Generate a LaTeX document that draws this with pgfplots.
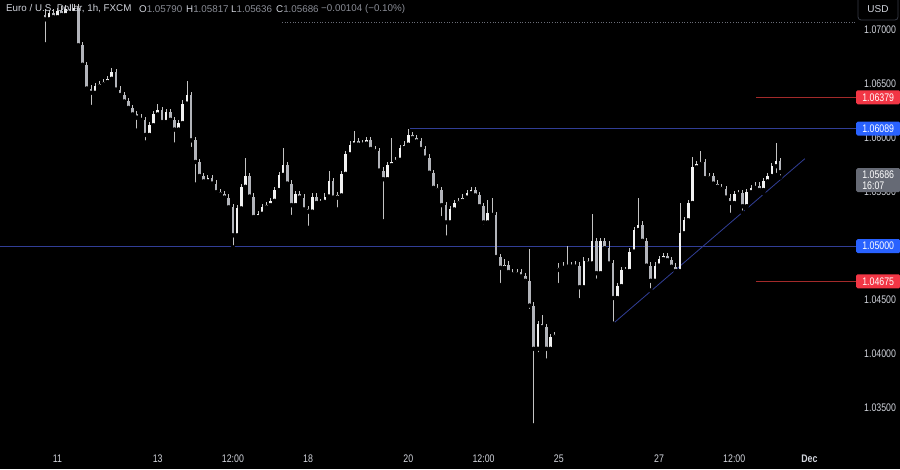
\documentclass[border=0pt]{standalone}
\usepackage{fontspec}
\setmainfont{Liberation Sans}
\newfontfamily\axfont{Liberation Sans}[FakeStretch=0.8]
\usepackage{pgfplots}
\usepackage{pgfplotstable}
\pgfplotsset{compat=1.18}

\definecolor{txt}{HTML}{D1D4DC}
\definecolor{dim}{HTML}{8A8D96}
\definecolor{upc}{HTML}{F2F2F2}
\definecolor{dnc}{HTML}{B2B4BA}
\definecolor{wick}{HTML}{C4C4C4}
\definecolor{lvlblue}{HTML}{313E96}
\definecolor{lvlred}{HTML}{A32A2A}
\definecolor{tagblue}{HTML}{2962FF}
\definecolor{tagred}{HTML}{F23645}
\definecolor{taggray}{HTML}{666A75}
\definecolor{dotgray}{HTML}{6B6E78}

% 2h candles, t = trading hours from Nov 11 00:00
\pgfplotstableread{
t o h l c
-6 1.0714 1.0720 1.0687 1.0710
-4 1.0710 1.0719 1.0707 1.0716
-2 1.0716 1.0720 1.0709 1.0712
0 1.0712 1.0721 1.0709 1.0718
2 1.0718 1.0722 1.0711 1.0714
4 1.0714 1.0723 1.0711 1.0720
6 1.0720 1.0723 1.0713 1.0716
8 1.0716 1.0724 1.0713 1.0721
10 1.0721 1.0724 1.0683 1.0686
12 1.0686 1.0689 1.0665 1.0668
14 1.0668 1.0671 1.0643 1.0646
16 1.0646 1.0649 1.0629 1.0642
18 1.0642 1.0651 1.0639 1.0648
20 1.0648 1.0653 1.0645 1.0650
22 1.0650 1.0655 1.0647 1.0652
24 1.0652 1.0658 1.0649 1.0655
26 1.0655 1.0665 1.0652 1.0661
28 1.0661 1.0664 1.0642 1.0645
30 1.0645 1.0648 1.0637 1.0640
32 1.0640 1.0643 1.0631 1.0634
34 1.0634 1.0637 1.0625 1.0628
36 1.0628 1.0631 1.0619 1.0622
38 1.0622 1.0625 1.0607 1.0619
40 1.0619 1.0622 1.0614 1.0617
42 1.0617 1.0620 1.0596 1.0603
44 1.0603 1.0615 1.0600 1.0612
46 1.0612 1.0625 1.0609 1.0622
48 1.0622 1.0632 1.0619 1.0626
50 1.0626 1.0629 1.0612 1.0615
52 1.0615 1.0627 1.0612 1.0624
54 1.0624 1.0627 1.0614 1.0617
56 1.0617 1.0620 1.0594 1.0608
58 1.0608 1.0617 1.0605 1.0614
60 1.0614 1.0635 1.0611 1.0632
62 1.0632 1.0653 1.0629 1.0640
64 1.0640 1.0643 1.0590 1.0598
66 1.0598 1.0601 1.0557 1.0578
68 1.0578 1.0581 1.0562 1.0565
70 1.0565 1.0568 1.0557 1.0560
72 1.0560 1.0566 1.0557 1.0563
74 1.0563 1.0566 1.0555 1.0558
76 1.0558 1.0561 1.0547 1.0550
78 1.0550 1.0553 1.0545 1.0548
80 1.0548 1.0551 1.0542 1.0545
82 1.0545 1.0548 1.0533 1.0536
84 1.0536 1.0539 1.0499 1.0510
86 1.0510 1.0538 1.0507 1.0535
88 1.0535 1.0558 1.0532 1.0555
90 1.0555 1.0582 1.0552 1.0565
92 1.0565 1.0568 1.0543 1.0546
94 1.0546 1.0549 1.0524 1.0527
96 1.0527 1.0533 1.0524 1.0530
98 1.0530 1.0539 1.0527 1.0536
100 1.0536 1.0541 1.0533 1.0538
102 1.0538 1.0545 1.0535 1.0542
104 1.0542 1.0555 1.0539 1.0552
106 1.0552 1.0569 1.0549 1.0566
108 1.0566 1.0591 1.0563 1.0575
110 1.0575 1.0578 1.0555 1.0558
112 1.0558 1.0561 1.0527 1.0538
114 1.0538 1.0551 1.0535 1.0548
116 1.0548 1.0551 1.0542 1.0545
118 1.0545 1.0548 1.0531 1.0534
120 1.0534 1.0537 1.0517 1.0532
122 1.0532 1.0549 1.0529 1.0546
124 1.0546 1.0549 1.0537 1.0540
126 1.0540 1.0544 1.0537 1.0541
128 1.0541 1.0549 1.0538 1.0546
130 1.0546 1.0570 1.0543 1.0560
132 1.0560 1.0563 1.0542 1.0545
134 1.0545 1.0550 1.0534 1.0547
136 1.0547 1.0570 1.0544 1.0567
138 1.0567 1.0588 1.0564 1.0585
140 1.0585 1.0597 1.0582 1.0594
142 1.0594 1.0607 1.0591 1.0597
144 1.0597 1.0600 1.0591 1.0594
146 1.0594 1.0598 1.0591 1.0595
148 1.0595 1.0601 1.0592 1.0598
150 1.0598 1.0601 1.0587 1.0590
152 1.0590 1.0593 1.0585 1.0588
154 1.0588 1.0591 1.0567 1.0570
156 1.0570 1.0573 1.0523 1.0562
158 1.0562 1.0578 1.0559 1.0575
160 1.0575 1.0600 1.0572 1.0578
162 1.0578 1.0583 1.0575 1.0580
164 1.0580 1.0594 1.0577 1.0591
166 1.0591 1.0597 1.0588 1.0594
168 1.0594 1.06089 1.0591 1.0603
170 1.0603 1.0606 1.0597 1.0600
172 1.0600 1.0603 1.0594 1.0597
174 1.0597 1.0600 1.0587 1.0590
176 1.0590 1.0593 1.0579 1.0582
178 1.0582 1.0585 1.0565 1.0568
180 1.0568 1.0571 1.0551 1.0554
182 1.0554 1.0558 1.0549 1.0552
184 1.0552 1.0555 1.0526 1.0538
186 1.0538 1.0541 1.0508 1.0522
188 1.0522 1.0537 1.0519 1.0534
190 1.0534 1.0543 1.0531 1.0540
192 1.0540 1.0545 1.0537 1.0542
194 1.0542 1.0548 1.0539 1.0545
196 1.0545 1.0552 1.0542 1.0549
198 1.0549 1.0555 1.0546 1.0552
200 1.0552 1.0555 1.0544 1.0547
202 1.0547 1.0550 1.0534 1.0537
204 1.0537 1.0540 1.0518 1.0522
206 1.0522 1.0543 1.0519 1.0531
208 1.0531 1.0545 1.0526 1.0529
210 1.0529 1.0532 1.0487 1.0490
212 1.0490 1.0493 1.0464 1.0480
214 1.0480 1.0488 1.0477 1.0483
216 1.0483 1.0486 1.0473 1.0476
218 1.0476 1.0479 1.0471 1.0474
220 1.0474 1.0479 1.0471 1.0476
222 1.0476 1.0479 1.0469 1.0472
224 1.0472 1.0475 1.0465 1.0468
226 1.0468 1.0497 1.0440 1.0445
228 1.0445 1.0448 1.0334 1.0405
230 1.0405 1.0431 1.0400 1.0428
232 1.0428 1.0436 1.0422 1.0425
234 1.0425 1.0428 1.0394 1.0405
236 1.0405 1.0419 1.0402 1.0416
238 1.0416 1.0421 1.0413 1.0418
240 1.0478 1.0484 1.0464 1.0480
242 1.0480 1.0485 1.0477 1.0481
244 1.0481 1.0500 1.0478 1.0482
246 1.0482 1.0485 1.0478 1.0481
248 1.0481 1.0486 1.0478 1.0482
250 1.0482 1.0485 1.0450 1.0462
252 1.0462 1.0490 1.0459 1.0486
254 1.0486 1.0489 1.0481 1.0484
256 1.0484 1.0530 1.0481 1.0505
258 1.0505 1.0508 1.0468 1.0475
260 1.0475 1.0508 1.0472 1.0505
262 1.0505 1.0508 1.0495 1.0498
264 1.0498 1.0505 1.0481 1.0484
266 1.0484 1.0487 1.04283 1.0452
268 1.0452 1.0466 1.0449 1.0463
270 1.0463 1.0481 1.0460 1.0478
272 1.0478 1.0481 1.0474 1.0477
274 1.0477 1.0498 1.0474 1.0495
276 1.0495 1.0518 1.0492 1.0515
278 1.0515 1.0545 1.0512 1.0520
280 1.0520 1.0523 1.0502 1.0505
282 1.0505 1.0508 1.0479 1.0482
284 1.0482 1.0485 1.0459 1.0468
286 1.0468 1.0485 1.0465 1.0482
288 1.0482 1.0491 1.0479 1.0488
290 1.0488 1.0494 1.0485 1.0491
292 1.0491 1.0494 1.0484 1.0487
294 1.0487 1.0490 1.0478 1.0481
296 1.0481 1.0484 1.0475 1.0477
298 1.0477 1.0540 1.0474 1.0512
300 1.0512 1.0527 1.0509 1.0524
302 1.0524 1.0543 1.0521 1.0540
304 1.0540 1.0583 1.0537 1.0573
306 1.0573 1.0579 1.0570 1.0576
308 1.0576 1.0588 1.0573 1.0578
310 1.0578 1.0581 1.0560 1.0563
312 1.0563 1.0568 1.0560 1.0565
314 1.0565 1.0568 1.0555 1.0558
316 1.0558 1.0561 1.0552 1.0555
318 1.0555 1.0558 1.0550 1.0553
320 1.0553 1.0556 1.0542 1.0545
322 1.0545 1.0548 1.0529 1.0540
324 1.0540 1.0551 1.0537 1.0548
326 1.0548 1.0552 1.0545 1.0549
328 1.0549 1.0552 1.0531 1.0537
330 1.0537 1.0553 1.0534 1.0550
332 1.0550 1.0557 1.0547 1.0554
334 1.0554 1.0559 1.0551 1.0556
336 1.0556 1.0559 1.0549 1.0552
338 1.0552 1.0563 1.0549 1.0560
340 1.0560 1.0568 1.0557 1.0565
342 1.0565 1.0577 1.0562 1.0574
344 1.0574 1.0596 1.0566 1.0579
346 1.05790 1.05817 1.05636 1.05686
}\candles

\begin{document}
\begin{tikzpicture}[x=1pt,y=1pt]
\fill[black] (0,0) rectangle (900,469);
\useasboundingbox (0,0) rectangle (900,469);
\begin{axis}[
  at={(0,29)}, anchor=south west, scale only axis,
  width=856pt, height=440pt,
  xmin=-27.5, xmax=382.3, ymin=1.03227, ymax=1.07301,
  axis line style={draw=none}, major tick length=0pt,
  xtick={0,48,84,120,168,204,240,288,324,360},
  xticklabels={11,13,12:00,18,20,12:00,25,27,12:00,\textbf{Dec}},
  ytick={1.035,1.04,1.045,1.055,1.06,1.065,1.07},
  yticklabels={1.03500,1.04000,1.04500,1.05500,1.06000,1.06500,1.07000},
  yticklabel pos=right,
  xticklabel style={font=\axfont\fontsize{11}{12}\selectfont, text=txt, anchor=center, inner sep=0pt, yshift=-21pt},
  yticklabel style={font=\axfont\fontsize{11}{12}\selectfont, text=txt, anchor=west, inner sep=0pt, xshift=8pt},
  clip=false,
]
% levels
\addplot[dotgray, dotted, line width=0.7pt] coordinates {(107.5,1.07069) (382.3,1.07069)};
\addplot[lvlblue, line width=0.8pt] coordinates {(-27.5,1.05) (382.3,1.05)};
\addplot[lvlblue, line width=0.8pt] coordinates {(169,1.06089) (382.3,1.06089)};
\addplot[lvlred, line width=0.8pt] coordinates {(334.4,1.06379) (382.3,1.06379)};
\addplot[lvlred, line width=0.8pt] coordinates {(334.4,1.04675) (382.3,1.04675)};
\addplot[lvlblue, line width=0.8pt] coordinates {(266,1.04283) (357.8,1.05810)};
% wicks
\addplot[only marks, mark=none, error bars/.cd, y dir=plus, y explicit, error mark=none,
  error bar style={wick, line width=0.7pt}]
  table[x=t, y=l, y error expr=\thisrow{h}-\thisrow{l}] {\candles};
% bodies
\addplot[only marks, mark=none, restrict expr to domain={\thisrow{c}-\thisrow{o}}{0:1},
  error bars/.cd, y dir=plus, y explicit, error mark=none,
  error bar style={upc, line width=2.6pt}]
  table[x=t, y=o, y error expr=\thisrow{c}-\thisrow{o}] {\candles};
\addplot[only marks, mark=none, restrict expr to domain={\thisrow{o}-\thisrow{c}}{0.000001:1},
  error bars/.cd, y dir=plus, y explicit, error mark=none,
  error bar style={dnc, line width=2.6pt}]
  table[x=t, y=c, y error expr=\thisrow{o}-\thisrow{c}] {\candles};
\coordinate (r1) at (axis cs:382.3,1.06379);
\coordinate (b1) at (axis cs:382.3,1.06089);
\coordinate (b2) at (axis cs:382.3,1.05);
\coordinate (r2) at (axis cs:382.3,1.04675);
\end{axis}
% price tags
\tikzset{tag/.style={anchor=west, text=white, inner sep=0pt, minimum width=44pt, minimum height=14pt,
  rounded corners=1.5pt, font=\axfont\fontsize{11}{12}\selectfont}}
\node[tag, fill=tagred] at (r1) {1.06379};
\node[tag, fill=tagblue] at (b1) {1.06089};
\node[tag, fill=tagblue] at (b2) {1.05000};
\node[tag, fill=tagred] at (r2) {1.04675};
\node[anchor=north west, fill=taggray, text=white, inner sep=0pt, minimum width=44pt, minimum height=24pt,
  rounded corners=1.5pt, align=left, font=\axfont\fontsize{11}{11.5}\selectfont] at (856,301) {1.05686\\16:07};
% currency button
\draw[draw={rgb,255:red,54;green,58;blue,69}, fill=black, rounded corners=3pt, line width=0.8pt] (858,449) rectangle (898,472);
\node[text=txt, font=\fontsize{10}{12}\selectfont] at (878,459.5) {USD};
% header
\begin{scope}[every node/.style={anchor=west, inner sep=0pt, font=\fontsize{9.8}{12}\selectfont}]
\node[text=txt] at (6,460) {Euro / U.S. Dollar, 1h, FXCM};
\node at (139,460) {\textcolor{txt}{O}\textcolor{dim}{1.05790}};
\node at (186,460) {\textcolor{txt}{H}\textcolor{dim}{1.05817}};
\node at (231,460) {\textcolor{txt}{L}\textcolor{dim}{1.05636}};
\node at (276,460) {\textcolor{txt}{C}\textcolor{dim}{1.05686}};
\node[text=dim] at (321,460) {−0.00104 (−0.10\%)};
\end{scope}
\end{tikzpicture}
\end{document}
